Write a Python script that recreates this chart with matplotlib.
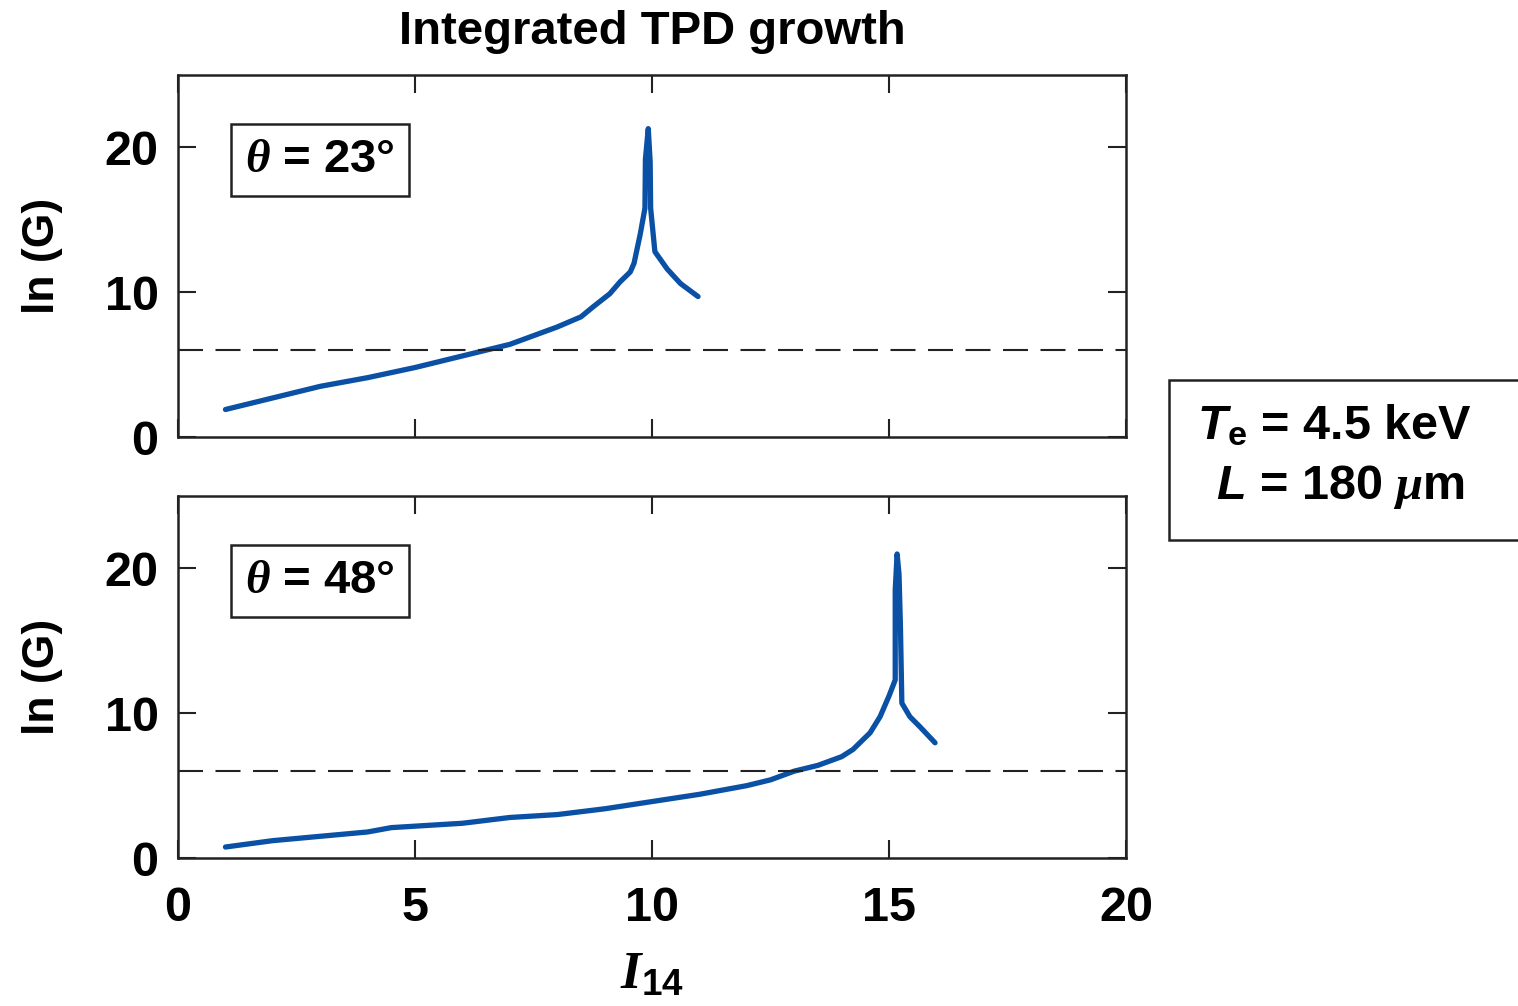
import matplotlib
matplotlib.use("Agg")
import matplotlib.pyplot as plt
from matplotlib.patches import Rectangle

plt.rcParams['font.family'] = ['Liberation Sans', 'DejaVu Sans']
plt.rcParams['font.weight'] = 'bold'
plt.rcParams['mathtext.fontset'] = 'custom'
plt.rcParams['mathtext.rm'] = 'Liberation Sans:bold'
plt.rcParams['mathtext.bf'] = 'Liberation Sans:bold'
plt.rcParams['mathtext.it'] = 'Liberation Serif:italic'
plt.rcParams['mathtext.sf'] = 'Liberation Sans:bold:italic'

# theta = 23 deg
i14_a = [1.0, 2.0, 3.0, 4.0, 5.0, 6.0, 7.0, 8.0, 8.5, 8.76, 9.11, 9.32, 9.54, 9.62, 9.75,
         9.85, 9.86, 9.92, 9.96, 9.97, 10.06, 10.32, 10.6, 10.97]
lnG_a = [1.9, 2.7, 3.5, 4.1, 4.8, 5.6, 6.4, 7.6, 8.3, 9.0, 9.9, 10.7, 11.4, 12.0, 14.0,
         15.8, 19.2, 21.3, 19.0, 15.8, 12.8, 11.6, 10.6, 9.7]

# theta = 48 deg
i14_b = [1.0, 2.0, 3.0, 4.0, 4.5, 5.0, 6.0, 6.5, 7.0, 8.0, 9.0, 10.0, 11.0, 12.0, 12.5,
         13.0, 13.5, 14.0, 14.24, 14.6, 14.81, 15.0, 15.13, 15.13, 15.17, 15.21, 15.24,
         15.27, 15.44, 15.65, 15.97]
lnG_b = [0.76, 1.2, 1.5, 1.8, 2.1, 2.2, 2.4, 2.6, 2.8, 3.0, 3.4, 3.9, 4.4, 5.0, 5.4,
         6.0, 6.4, 7.0, 7.5, 8.65, 9.76, 11.2, 12.3, 18.5, 21.0, 19.6, 16.0,
         10.7, 9.76, 9.07, 7.96]

threshold = 6
angles = ['23', '48']
blue = '#0a50a4'

fig = plt.figure(figsize=(15.18, 10.06), dpi=100)
ax_top = fig.add_axes([0.1173, 0.5656, 0.6245, 0.3598])
ax_bot = fig.add_axes([0.1173, 0.1471, 0.6245, 0.3598])

for ax, xs, ys, ang in [(ax_top, i14_a, lnG_a, angles[0]), (ax_bot, i14_b, lnG_b, angles[1])]:
    ax.plot(xs, ys, color=blue, lw=3.8, solid_joinstyle='round', solid_capstyle='round')
    ax.axhline(threshold, color='#222222', lw=1.5, dashes=(12, 6))
    ax.set_xlim(0, 20)
    ax.set_ylim(0, 25)
    ax.set_xticks([0, 5, 10, 15, 20])
    ax.set_yticks([0, 10, 20])
    ax.tick_params(direction='in', length=13, width=1.5, top=True, right=True,
                   labelsize=35, color='#222222')
    ax.tick_params(axis='y', pad=14)
    ax.tick_params(axis='x', pad=20)
    for s in ax.spines.values():
        s.set_linewidth(1.8)
        s.set_color('#222222')
    ax.set_ylabel('ln (G)', fontsize=32, fontweight='bold', labelpad=30)
    ax.text(0.071, 0.765, r'$\theta$ = ' + ang + '°', transform=ax.transAxes,
            fontsize=34, fontweight='bold', va='center', ha='left',
            bbox=dict(boxstyle='square,pad=0.3', fc='white', ec='#222222', lw=1.8))

ax_top.tick_params(labelbottom=False)
ax_bot.set_xlabel(r'$I$' + r'$_{\mathrm{14}}$', fontsize=38, labelpad=14)
ax_top.set_title('Integrated TPD growth', fontsize=34, fontweight='bold', pad=22)

# parameter box, running off the right edge
fig.patches.append(Rectangle((1169 / 1518, 1 - 540 / 1006), 0.3, 160 / 1006,
                             transform=fig.transFigure, fc='white', ec='#222222', lw=1.8))
fig.text(1197 / 1518, 1 - 427 / 1006, r'$\mathsf{T}_{\mathrm{e}}$ = 4.5 keV',
         fontsize=35, fontweight='bold', va='center', ha='left')
fig.text(1216 / 1518, 1 - 487 / 1006, r'$\mathsf{L}$ = 180 $\mu$m',
         fontsize=35, fontweight='bold', va='center', ha='left')

fig.savefig('out.png', dpi=100)
